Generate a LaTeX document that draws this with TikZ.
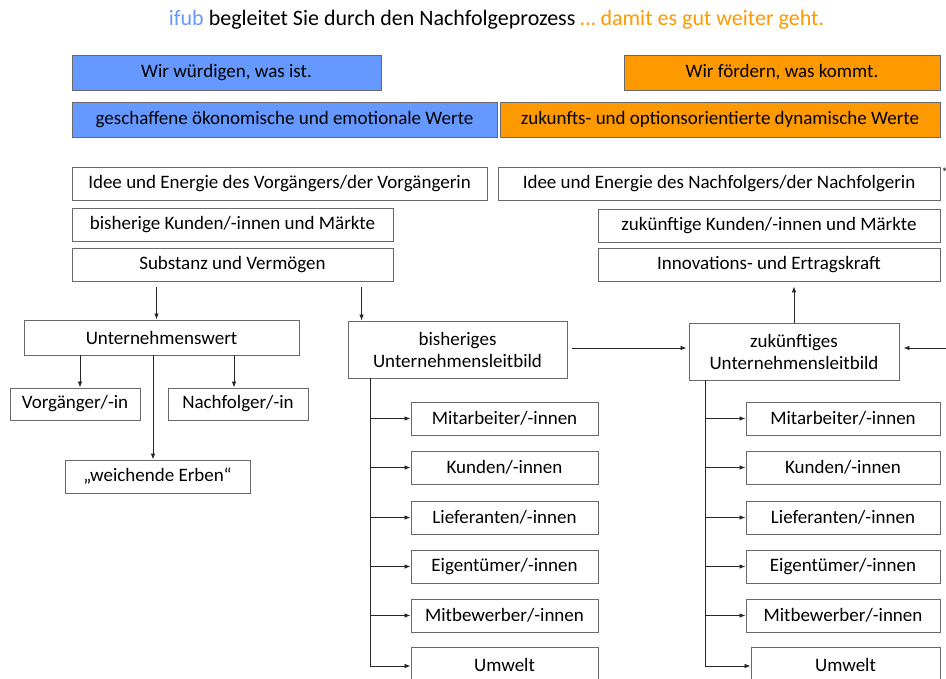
\documentclass[tikz,border=0pt]{standalone}
\usepackage{fontspec}
\setmainfont{Carlito}
\usepackage{tikz}
\usetikzlibrary{positioning}
\usetikzlibrary{calc,arrows.meta}

\definecolor{ifubBlue}{RGB}{102,153,255}
\definecolor{ifubOrange}{RGB}{255,153,0}
\definecolor{boxLine}{RGB}{105,105,105}

\tikzset{
	box/.style={draw=boxLine, line width=0.9pt, inner sep=0pt, align=center,
		font=\fontsize{19}{22}\selectfont},
	wh/.style 2 args={minimum width=#1pt, minimum height=#2pt},
	blueBox/.style={box, fill=ifubBlue},
	orangeBox/.style={box, fill=ifubOrange},
	conn/.style={draw=black!85, line width=0.8pt},
	arr/.style={conn, -{Latex[length=6pt,width=4.5pt]}},
}

\begin{document}
\begin{tikzpicture}[x=1pt, y=-1pt]

	% ------------------------------------------------
	% Dimensions of the graphic
	\useasboundingbox (0,0) rectangle (946,679);

	% ------------------------------------------------
	% Heading
	\node[font=\fontsize{22}{24}\selectfont] (Title) at (496.5,20)
		{\textcolor{ifubBlue}{ifub} begleitet Sie durch den Nachfolgeprozess \textcolor{ifubOrange}{… damit es gut weiter geht.}};

	% ----------------
	% Coloured bars
	\node[blueBox, wh={309}{35}]   (WirW)   at (226.5,72.5)  {Wir würdigen, was ist.};
	\node[orangeBox, wh={316}{35}] (WirF)   at (782,72.5)    {Wir fördern, was kommt.};
	\node[blueBox, wh={425}{35}]   (WerteA) at (284.5,119.5) {geschaffene ökonomische und emotionale Werte};
	\node[orangeBox, wh={440}{35}] (WerteB) at (720,119.5)   {zukunfts- und optionsorientierte dynamische Werte};

	% ----------------
	% Values of predecessor / successor
	\node[box, wh={415}{33}] (IdeeV)    at (279.5,183.5) {Idee und Energie des Vorgängers/der Vorgängerin};
	\node[box, wh={321}{33}] (KundenV)  at (232.5,224.5) {bisherige Kunden/-innen und Märkte};
	\node[box, wh={321}{33}] (Substanz) at (232.5,264.5) {Substanz und Vermögen};

	\node[box, wh={442}{33}] (IdeeN)    at (719,183.5)   {Idee und Energie des Nachfolgers/der Nachfolgerin};
	\node[box, wh={342}{33}] (KundenN)  at (769,225.5)   {zukünftige Kunden/-innen und Märkte};
	\node[box, wh={342}{33}] (Innov)    at (769,264.5)   {Innovations- und Ertragskraft};
	\node[anchor=north west, inner sep=0pt, font=\fontsize{12}{12}\selectfont] (Stern) at ([xshift=1pt,yshift=-1pt]IdeeN.north east) {*};

	% ----------------
	% Company value
	\node[box, wh={275}{35}] (UWert)  at (161.5,337.5) {Unternehmenswert};
	\node[box, wh={130}{32}] (VorgIn) at (75,404)      {Vorgänger/-in};
	\node[box, wh={140}{32}] (NachIn) at (238,404)     {Nachfolger/-in};
	\node[box, wh={185}{33}] (Erben)  at (157.5,476.5) {„weichende Erben“};

	% ----------------
	% Mission statements
	\node[box, wh={219}{57}] (LeitA) at (457.5,349.5) {bisheriges\\Unternehmensleitbild};
	\node[box, wh={210}{57}] (LeitB) at (794,351.5)   {zukünftiges\\Unternehmensleitbild};

	% ------------------------------------------------
	% Stakeholder rows
	\coordinate (RowA) at (504.5,418.5);
	\path (RowA) +(338.5,0) coordinate (RowB);

	\node[box, wh={187}{33}] (MitA)  at (RowA)                {Mitarbeiter/-innen};
	\node[box, wh={187}{33}] (KunA)  at ($(RowA)+(0,49)$)     {Kunden/-innen};
	\node[box, wh={187}{33}] (LiefA) at ($(RowA)+(0,99)$)     {Lieferanten/-innen};
	\node[box, wh={187}{33}] (EigA)  at ($(RowA)+(0,148)$)    {Eigentümer/-innen};
	\node[box, wh={187}{33}] (BewA)  at ($(RowA)+(0,197)$)    {Mitbewerber/-innen};
	\node[box, wh={187}{35}] (UmA)   at ($(RowA)+(0,246)$)    {Umwelt};

	\node[box, wh={194}{33}] (MitB)  at (RowB)                {Mitarbeiter/-innen};
	\node[box, wh={194}{33}] (KunB)  at ($(RowB)+(0,49)$)     {Kunden/-innen};
	\node[box, wh={194}{33}] (LiefB) at ($(RowB)+(0,99)$)     {Lieferanten/-innen};
	\node[box, wh={194}{33}] (EigB)  at ($(RowB)+(0,148)$)    {Eigentümer/-innen};
	\node[box, wh={194}{33}] (BewB)  at ($(RowB)+(0,197)$)    {Mitbewerber/-innen};
	\node[box, wh={189}{35}] (UmB)   at ($(RowB)+(2.5,246)$)  {Umwelt};

	% ------------------------------------------------
	% Relevant coordinates
	\coordinate (SubOutA) at ($(Substanz.south -| UWert.north)+(-5,6)$);
	\coordinate (SubOutB) at ($(Substanz.south -| LeitA.north west)+(14,6)$);
	\coordinate (TrunkA)  at ($(LeitA.south west)+(23,0)$);
	\coordinate (TrunkB)  at ($(LeitB.south west)+(17,0)$);
	\coordinate (RightIn) at (946,348);

	% ------------------------------------------------
	% Connectors
	\draw[arr] (SubOutA) -- (SubOutA |- UWert.north);
	\draw[arr] (SubOutB) -- (SubOutB |- LeitA.north);

	\draw[arr] ($(UWert.south -| VorgIn.north)+(5,0)$) -- ($(VorgIn.north)+(5,0)$);
	\draw[arr] ($(UWert.south -| NachIn.north)+(-4,0)$) -- ($(NachIn.north)+(-4,0)$);
	\draw[arr] ($(UWert.south -| Erben.north)+(-4.5,0)$) -- ($(Erben.north)+(-4.5,0)$);

	\draw[arr] ($(LeitA.east)+(5,-1.5)$) -- ($(LeitA.east -| LeitB.west)+(-2,-1.5)$);
	\draw[arr] (LeitB.north) -- ($(LeitB.north |- Innov.south)+(0,5)$);
	\draw[arr] (RightIn) -- ($(LeitB.east |- RightIn)+(4,0)$);

	% ----------------
	% Trees
	\draw[arr] (TrunkA |- MitA.west)  -- (MitA.west);
	\draw[arr] (TrunkA |- KunA.west)  -- (KunA.west);
	\draw[arr] (TrunkA |- LiefA.west) -- (LiefA.west);
	\draw[arr] (TrunkA |- EigA.west)  -- (EigA.west);
	\draw[arr] (TrunkA |- BewA.west)  -- (BewA.west);
	\draw[arr] (TrunkA) |- ($(UmA.west)+(0,1.5)$);

	\draw[arr] (TrunkB |- MitB.west)  -- (MitB.west);
	\draw[arr] (TrunkB |- KunB.west)  -- (KunB.west);
	\draw[arr] (TrunkB |- LiefB.west) -- (LiefB.west);
	\draw[arr] (TrunkB |- EigB.west)  -- (EigB.west);
	\draw[arr] (TrunkB |- BewB.west)  -- (BewB.west);
	\draw[arr] (TrunkB) |- ($(UmB.west)+(0,1.5)$);

\end{tikzpicture}
\end{document}
